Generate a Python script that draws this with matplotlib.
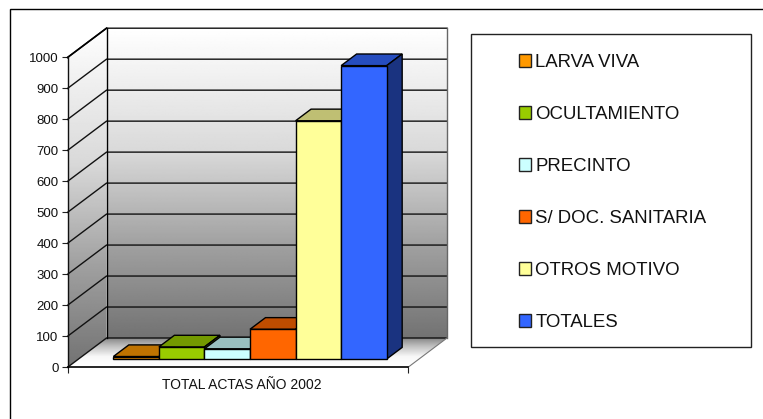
import numpy as np
import matplotlib
matplotlib.use("Agg")
import matplotlib.pyplot as plt
from matplotlib.patches import Polygon, Rectangle

plt.rcParams['font.family'] = ['Liberation Sans', 'DejaVu Sans']

# values
categories = ['LARVA VIVA', 'OCULTAMIENTO', 'PRECINTO', 'S/ DOC. SANITARIA', 'OTROS MOTIVO', 'TOTALES']
values = [8, 39, 33, 96, 769, 947]
front_colors = ['#FF9900', '#99CC00', '#CCFFFF', '#FF6600', '#FFFF99', '#3366FF']
top_colors = ['#BF7300', '#739900', '#99BFBF', '#BF4D00', '#BFBF73', '#264DBF']
side_colors = ['#804D00', '#4D6600', '#668080', '#803300', '#80804D', '#1A3380']
yticks = list(range(0, 1001, 100))
xlabel = 'TOTAL ACTAS AÑO 2002'

W, H = 763, 419
fig = plt.figure(figsize=(W / 100, H / 100), dpi=100, facecolor='white')

# the axes is the front plane of the 3d box
left, right, bottom, top = 67.5, 408.0, 367.3, 57.5
ax = fig.add_axes([left / W, 1 - bottom / H, (right - left) / W, (bottom - top) / H])
ax.set_xlim(-1.264, 6.21)
ax.set_ylim(0, 1000)
ax.patch.set_visible(False)
for s in ax.spines.values():
    s.set_visible(False)

# one full depth step of the box, in data units
depth_x = 39.0 / ((right - left) / 7.474)
depth_y = 29.3 / ((bottom - top) / 1000)


def proj(x, v, d):
    return (x + d * depth_x, v + d * depth_y)


def gradient(pts, stops, z=1):
    # shaded wall, image clipped to the polygon
    poly = Polygon(pts, closed=True, transform=ax.transData, fc='none', ec='none')
    ax.add_patch(poly)
    xs = [p[0] for p in pts]
    ys = [p[1] for p in pts]
    g = np.interp(np.linspace(0, 1, 256), [s[0] for s in stops], [s[1] for s in stops]).reshape(-1, 1)
    im = ax.imshow(g, cmap='gray', vmin=0, vmax=1, origin='lower', aspect='auto',
                   extent=(min(xs), max(xs), min(ys), max(ys)), zorder=z, interpolation='bilinear')
    im.set_clip_box(fig.bbox)
    im.set_clip_path(poly)


x0, x1 = ax.get_xlim()
wall_stops = [(0, 0.45), (0.3, 0.63), (0.6, 0.85), (1, 1.0)]
gradient([proj(x0, 0, 1), proj(x1, 0, 1), proj(x1, 1000, 1), proj(x0, 1000, 1)], wall_stops)
gradient([proj(x0, 0, 0), proj(x0, 0, 1), proj(x0, 1000, 1), proj(x0, 1000, 0)], wall_stops)
gradient([proj(x0, 0, 0), proj(x1, 0, 0), proj(x1, 0, 1), proj(x0, 0, 1)],
         [(0, 1.0), (0.35, 0.97), (0.7, 0.75), (1, 0.5)])
ax.set_xlim(x0, x1)
ax.set_ylim(0, 1000)

# grid on both walls
for v in yticks:
    a, b, c = proj(x0, v, 0), proj(x0, v, 1), proj(x1, v, 1)
    ax.plot([a[0], b[0], c[0]], [a[1], b[1], c[1]], color='#111111', lw=1.0, clip_on=False, zorder=2,
            solid_joinstyle='miter')
# wall and floor edges
a, b, c = proj(x0, 0, 1), proj(x0, 1000, 1), proj(x0, 1000, 0)
ax.plot([a[0], b[0]], [a[1], b[1]], color='black', lw=1.0, clip_on=False, zorder=2)
ax.plot([b[0], c[0]], [b[1], c[1]], color='black', lw=1.2, clip_on=False, zorder=2)
ax.plot([x0, x0], [0, 1000], color='#111111', lw=1.0, clip_on=False, zorder=2)
a, b = proj(x1, 0, 1), proj(x1, 1000, 1)
ax.plot([a[0], b[0]], [a[1], b[1]], color='#666666', lw=1.0, clip_on=False, zorder=2)
a, b = proj(x1, 0, 0), proj(x1, 0, 1)
ax.plot([a[0], b[0]], [a[1], b[1]], color='#777777', lw=0.8, clip_on=False, zorder=2)
ax.plot([x0, x1], [0, 0], color='black', lw=1.2, clip_on=False, zorder=2)

# bars, left to right so later ones cover earlier ones
d0, d1 = 0.283, 0.68
for i, v in enumerate(values):
    xl, xr = i - 0.5, i + 0.5
    faces = [
        ([proj(xl, v, d0), proj(xr, v, d0), proj(xr, v, d1), proj(xl, v, d1)], top_colors[i]),
        ([proj(xr, 0, d0), proj(xr, 0, d1), proj(xr, v, d1), proj(xr, v, d0)], side_colors[i]),
        ([proj(xl, 0, d0), proj(xr, 0, d0), proj(xr, v, d0), proj(xl, v, d0)], front_colors[i]),
    ]
    for pts, col in faces:
        ax.add_patch(Polygon(pts, closed=True, fc=col, ec='black', lw=1.0, clip_on=False,
                             zorder=3 + i * 0.1, joinstyle='miter'))

ax.set_yticks(yticks)
ax.set_xticks([x0, x1], ['', ''])
ax.tick_params(axis='y', length=4.5, width=0.8, color='#222222', labelsize=9.5, pad=2, labelcolor='#111111')
ax.tick_params(axis='x', length=4.5, width=0.8, color='#222222')

# outer frame (only left and top are drawn) and legend box, in pixels
px = fig.add_axes([0, 0, 1, 1], zorder=-1)
px.set_xlim(0, W)
px.set_ylim(H, 0)
px.axis('off')
px.plot([9.5, 9.5, W], [H, 9.5, 9.5], color='black', lw=1.0, solid_joinstyle='miter')
px.add_patch(Rectangle((470.5, 34), 280, 313, fc='white', ec='#222222', lw=1.0))
px.text(242, 384.5, xlabel, ha='center', va='center', fontsize=10, color='#111111')

handles = [Rectangle((0, 0), 1, 1, fc=c, ec='#222222', lw=1.0) for c in front_colors]
leg = fig.legend(handles, categories, loc='upper left', bbox_to_anchor=(518.7 / W, 1 - 54 / H),
                 frameon=False, fontsize=13.4, labelspacing=1.88, handlelength=0.65, handleheight=0.65,
                 handletextpad=0.24, borderpad=0, borderaxespad=0, labelcolor='#111111')

fig.savefig('out.png', dpi=100)
